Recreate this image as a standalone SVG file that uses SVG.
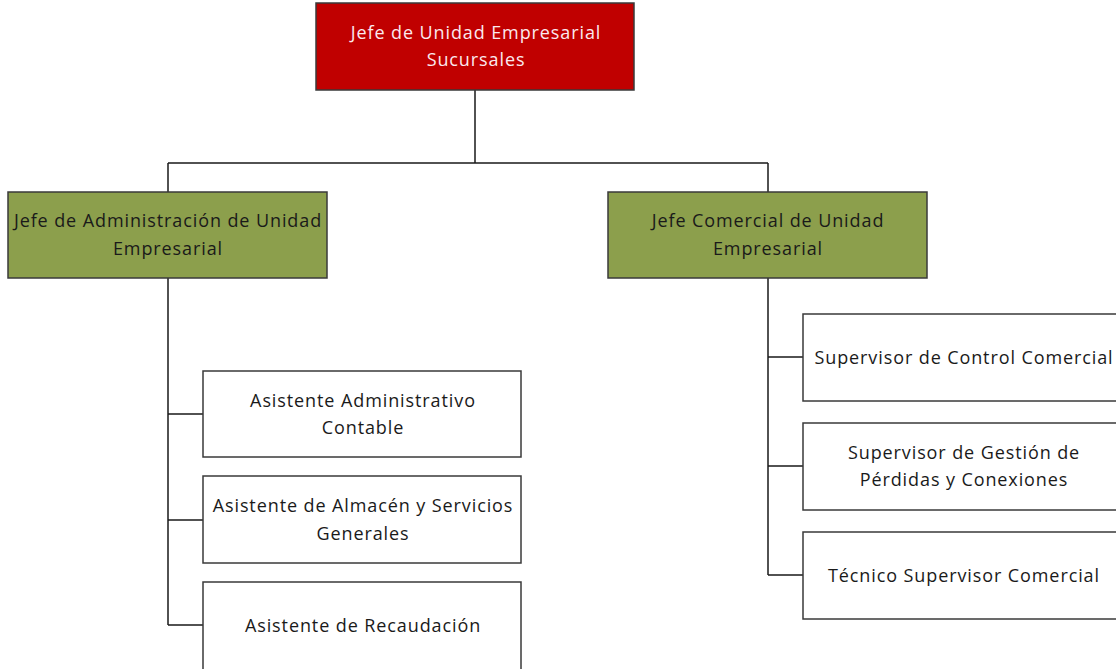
<svg xmlns="http://www.w3.org/2000/svg" width="1116" height="669" viewBox="0 0 1116 669">
<style>
.box{stroke:#3a3a3a;stroke-width:1.5}
.red{fill:#C00000}
.green{fill:#8C9F4C}
.white{fill:#ffffff}
text{font-family:"Open Sans","Liberation Sans",sans-serif;font-size:18px;letter-spacing:0.9px;text-anchor:middle;fill:#1a1a1a}
.lt{fill:#fbe9ee}
.conn{stroke:#1a1a1a;stroke-width:1.5;fill:none}
</style>
<rect width="1116" height="669" fill="#ffffff"/>
<g id="connectors">
<path class="conn" d="M475 90 V163 M168 163 H768 M168 163 V192 M768 163 V192"/>
<path class="conn" d="M168 278 V625 M168 414 H203 M168 520 H203 M168 625 H203"/>
<path class="conn" d="M768 278 V575 M768 357 H803 M768 466 H803 M768 575 H803"/>
</g>
<g id="top">
<rect class="box red" x="316" y="3" width="318" height="87"/>
<text class="lt" x="476" y="39">Jefe de Unidad Empresarial</text>
<text class="lt" x="476" y="66">Sucursales</text>
</g>
<g id="jefe-admin">
<rect class="box green" x="8" y="192" width="319" height="86"/>
<text x="168" y="227">Jefe de Administración de Unidad</text>
<text x="168" y="255">Empresarial</text>
</g>
<g id="jefe-comercial">
<rect class="box green" x="608" y="192" width="319" height="86"/>
<text x="768" y="227">Jefe Comercial de Unidad</text>
<text x="768" y="255">Empresarial</text>
</g>
<g id="asist-admin">
<rect class="box white" x="203" y="371" width="318" height="86"/>
<text x="363" y="407">Asistente Administrativo</text>
<text x="363" y="434">Contable</text>
</g>
<g id="asist-almacen">
<rect class="box white" x="203" y="476" width="318" height="87"/>
<text x="363" y="512">Asistente de Almacén y Servicios</text>
<text x="363" y="540">Generales</text>
</g>
<g id="asist-recaud">
<rect class="box white" x="203" y="582" width="318" height="90"/>
<text x="363" y="632">Asistente de Recaudación</text>
</g>
<g id="sup-control">
<rect class="box white" x="803" y="314" width="320" height="87"/>
<text x="964" y="364">Supervisor de Control Comercial</text>
</g>
<g id="sup-gestion">
<rect class="box white" x="803" y="423" width="320" height="87"/>
<text x="964" y="459">Supervisor de Gestión de</text>
<text x="964" y="486">Pérdidas y Conexiones</text>
</g>
<g id="tecnico">
<rect class="box white" x="803" y="532" width="320" height="87"/>
<text x="964" y="582">Técnico Supervisor Comercial</text>
</g>
</svg>
